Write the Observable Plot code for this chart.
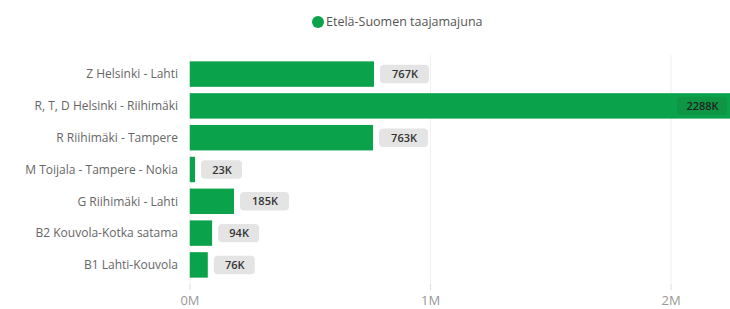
<!DOCTYPE html>
<html><head><meta charset="utf-8">
<script src="https://cdn.jsdelivr.net/npm/d3@7"></script>
<script src="https://cdn.jsdelivr.net/npm/@observablehq/plot@0.6"></script>
<style>
body{margin:0;background:#fff;font-family:"Open Sans",sans-serif;}
#legend{position:relative;height:42px;}
#legend .dot{position:absolute;left:312px;top:16px;width:12px;height:12px;border-radius:50%;background:#0aa24a;}
#legend .lbl{position:absolute;left:326px;top:13px;font-size:12.5px;color:#555;}
</style></head>
<body>
<div id="legend"><span class="dot"></span><span class="lbl">Etelä-Suomen taajamajuna</span></div>
<div id="chart"></div>
<script>
const routes = ["Z Helsinki - Lahti","R, T, D Helsinki - Riihimäki","R Riihimäki - Tampere","M Toijala - Tampere - Nokia","G Riihimäki - Lahti","B2 Kouvola-Kotka satama","B1 Lahti-Kouvola"];
const values = [767000, 2288000, 763000, 23000, 185000, 94000, 76000];
const labels = ["767K","2288K","763K","23K","185K","94K","76K"];
const xTicks = [0, 1000000, 2000000];
const xTickLabels = ["0M","1M","2M"];

const xMax = 2247000;
const data = routes.map((r,i)=>({route:r, value:values[i], label:labels[i]}));
const outside = data.filter(d=>d.value<=xMax*0.9);
const inside = data.filter(d=>d.value>xMax*0.9);
const out3 = outside.filter(d=>d.label.length===3);
const out4 = outside.filter(d=>d.label.length===4);

const green = "#0aa24a";
const chart = Plot.plot({
  width:730, height:267,
  marginLeft:189.5, marginRight:0, marginTop:13, marginBottom:25,
  style:{fontFamily:"Open Sans, sans-serif", fontSize:"12px", background:"#fff"},
  x:{domain:[0,xMax], ticks:xTicks, tickFormat:(d,i)=>xTickLabels[i], label:null, grid:false},
  y:{domain:routes, padding:0.2, round:false, label:null, tickSize:0, tickPadding:12},
  marks:[
    Plot.ruleX(xTicks,{stroke:"#f0f0f0", strokeWidth:1}),
    Plot.barX(data,{y:"route", x:"value", fill:green, clip:true}),
    Plot.rect(out3,{y:"route", x1:"value", x2:"value", insetLeft:6, insetRight:-47, insetTop:3.5, insetBottom:3.5, fill:"#e4e4e4", rx:4}),
    Plot.rect(out4,{y:"route", x1:"value", x2:"value", insetLeft:6, insetRight:-55, insetTop:3.5, insetBottom:3.5, fill:"#e4e4e4", rx:4}),
    Plot.text(out3,{y:"route", x:"value", text:"label", dx:26.5, fill:"#333", fontSize:11, fontWeight:600}),
    Plot.text(out4,{y:"route", x:"value", text:"label", dx:30.5, fill:"#333", fontSize:11, fontWeight:600}),
    Plot.rect(inside,{y:"route", x1:()=>xMax, x2:()=>xMax, insetLeft:-53, insetRight:3, insetTop:3.5, insetBottom:3.5, fill:"#0e9644", rx:4}),
    Plot.text(inside,{y:"route", x:()=>xMax, text:"label", dx:-28, fill:"#222", fontSize:11, fontWeight:600}),
    Plot.axisX({ticks:xTicks, tickFormat:(d,i)=>xTickLabels[i], tickSize:6, tickPadding:5, stroke:"#ddd", fill:"#999", fontSize:13, label:null}),
    Plot.axisY({tickSize:0, tickPadding:12, fill:"#666", fontSize:12, label:null})
  ]
});
document.getElementById("chart").appendChild(chart);
</script>
</body></html>
